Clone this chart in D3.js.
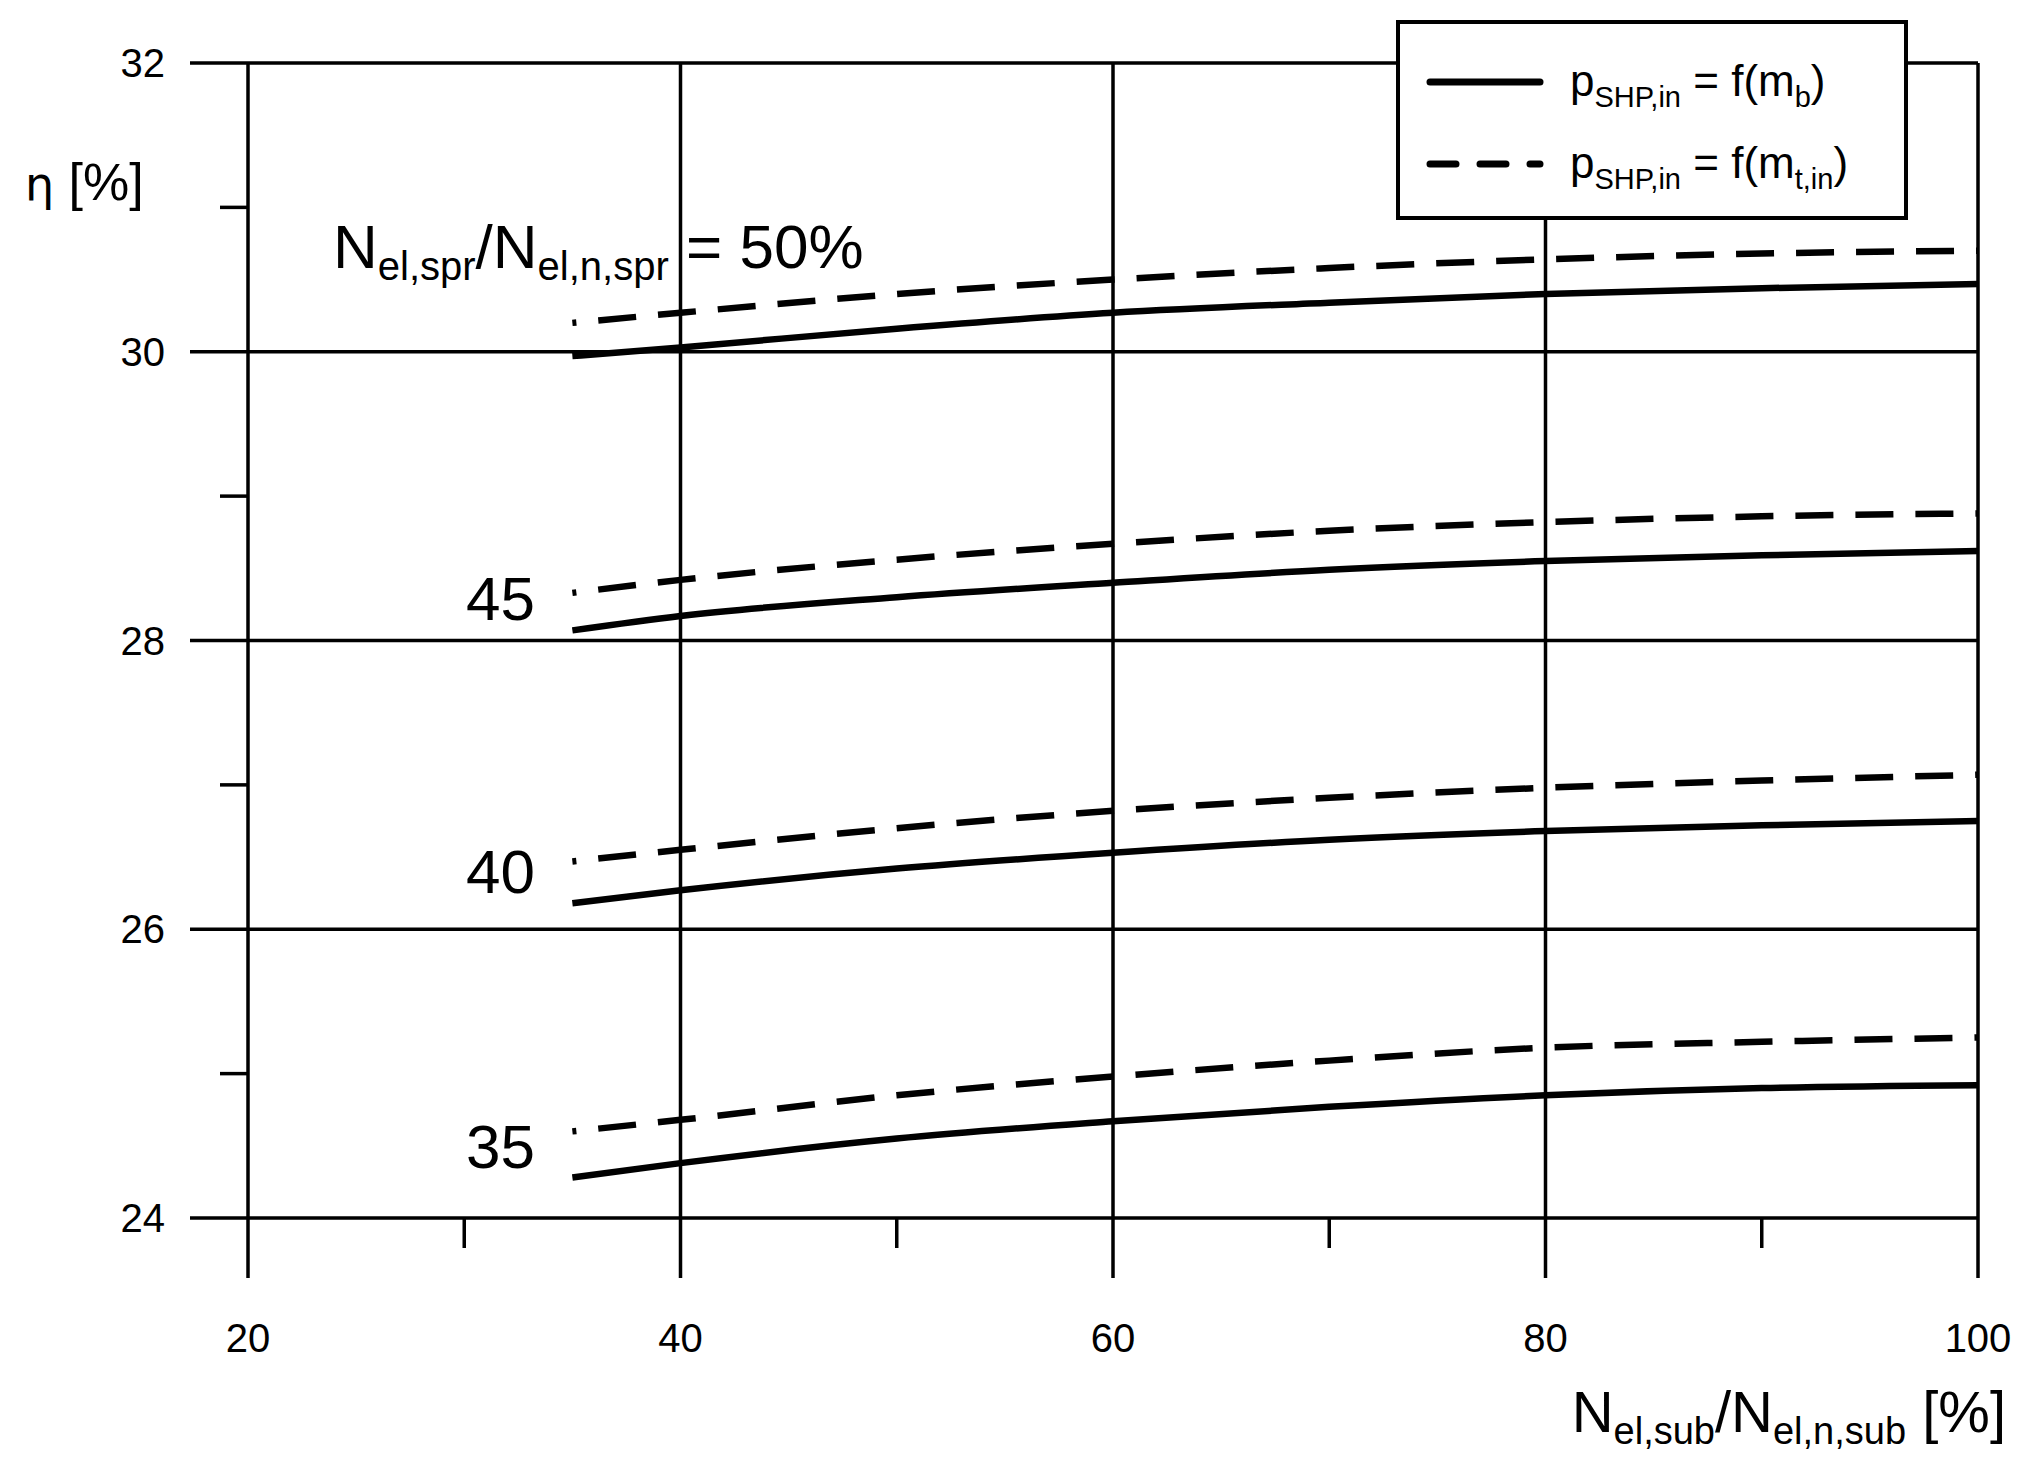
<!DOCTYPE html>
<html><head><meta charset="utf-8">
<script src="https://cdn.jsdelivr.net/npm/d3@7"></script>
<style>
body{margin:0;background:#fff}
text{font-family:"Liberation Sans Narrow","Liberation Sans",Arial,sans-serif;fill:#000}
</style></head>
<body><svg id="c" width="2039" height="1460"></svg>
<script>
// load fraction of the sub unit [%]
const xs = [35, 40, 50, 60, 70, 80, 90, 100];
// N_el,spr / N_el,n,spr levels
const levels = ["50", "45", "40", "35"];
const solid50 = [29.97, 30.03, 30.16, 30.27, 30.34, 30.40, 30.44, 30.47];
const dash50  = [30.20, 30.27, 30.40, 30.50, 30.58, 30.64, 30.68, 30.70];
const solid45 = [28.07, 28.17, 28.30, 28.40, 28.49, 28.55, 28.59, 28.62];
const dash45  = [28.33, 28.42, 28.56, 28.67, 28.76, 28.82, 28.86, 28.88];
const solid40 = [26.18, 26.27, 26.42, 26.53, 26.62, 26.68, 26.72, 26.75];
const dash40  = [26.47, 26.55, 26.70, 26.82, 26.91, 26.98, 27.03, 27.07];
const solid35 = [24.28, 24.38, 24.55, 24.67, 24.77, 24.85, 24.90, 24.92];
const dash35  = [24.60, 24.68, 24.85, 24.98, 25.09, 25.18, 25.22, 25.25];
const xTicks = [20, 40, 60, 80, 100];
const xMinor = [30, 50, 70, 90];
const yTicks = [24, 26, 28, 30, 32];
const yMinor = [25, 27, 29, 31];

const svg = d3.select("#c");
const x = d3.scaleLinear().domain([20, 100]).range([248, 1978]);
const y = d3.scaleLinear().domain([24, 32]).range([1218, 63]);
const lw = 3.5;

svg.append("g").selectAll("line").data(yTicks).join("line")
  .attr("x1", 190).attr("x2", x(100)).attr("y1", d => y(d)).attr("y2", d => y(d))
  .attr("stroke", "#000").attr("stroke-width", lw);
svg.append("g").selectAll("line").data(yMinor).join("line")
  .attr("x1", 220).attr("x2", x(20)).attr("y1", d => y(d)).attr("y2", d => y(d))
  .attr("stroke", "#000").attr("stroke-width", lw);
svg.append("g").selectAll("line").data(xTicks).join("line")
  .attr("x1", d => x(d)).attr("x2", d => x(d)).attr("y1", y(32)).attr("y2", 1278)
  .attr("stroke", "#000").attr("stroke-width", lw);
svg.append("g").selectAll("line").data(xMinor).join("line")
  .attr("x1", d => x(d)).attr("x2", d => x(d)).attr("y1", y(24)).attr("y2", 1248)
  .attr("stroke", "#000").attr("stroke-width", lw);

svg.append("g").selectAll("text").data(yTicks).join("text")
  .attr("x", 165).attr("y", d => y(d) + 14).attr("text-anchor", "end")
  .attr("font-size", 40).text(d => d);
svg.append("g").selectAll("text").data(xTicks).join("text")
  .attr("x", d => x(d)).attr("y", 1352).attr("text-anchor", "middle")
  .attr("font-size", 40).text(d => d);

const line = d3.line().x((d, i) => x(xs[i])).y(d => y(d)).curve(d3.curveMonotoneX);
const series = [[solid50, dash50], [solid45, dash45], [solid40, dash40], [solid35, dash35]];
series.forEach(([s, dsh]) => {
  svg.append("path").attr("d", line(s)).attr("fill", "none").attr("stroke", "#000").attr("stroke-width", 6.5);
  svg.append("path").attr("d", line(dsh)).attr("fill", "none").attr("stroke", "#000").attr("stroke-width", 6.5)
    .attr("stroke-dasharray", "38,22").attr("stroke-dashoffset", 34);
});

const lab = svg.append("g").attr("font-size", 62);
const t50 = lab.append("text").attr("x", 333).attr("y", 268);
t50.append("tspan").text("N");
t50.append("tspan").attr("font-size", 40).attr("dy", 12).text("el,spr");
t50.append("tspan").attr("dy", -12).text("/N");
t50.append("tspan").attr("font-size", 40).attr("dy", 12).text("el,n,spr");
t50.append("tspan").attr("dy", -12).text(" = 50%");
[["45", solid45], ["40", solid40], ["35", solid35]].forEach(([t, s]) => {
  lab.append("text").attr("x", 535).attr("y", y(s[0]) - 10).attr("text-anchor", "end").text(t);
});

const yt = svg.append("text").attr("x", 25).attr("y", 200).attr("font-size", 52);
yt.append("tspan").attr("font-family", "DejaVu Sans").attr("font-size", 46).text("η");
yt.append("tspan").text(" [%]");
const xt = svg.append("text").attr("x", 2006).attr("y", 1432).attr("font-size", 58).attr("text-anchor", "end");
xt.append("tspan").text("N");
xt.append("tspan").attr("font-size", 38).attr("dy", 12).text("el,sub");
xt.append("tspan").attr("dy", -12).text("/N");
xt.append("tspan").attr("font-size", 38).attr("dy", 12).text("el,n,sub");
xt.append("tspan").attr("dy", -12).text(" [%]");

const lg = svg.append("g");
lg.append("rect").attr("x", 1398).attr("y", 22).attr("width", 508).attr("height", 196)
  .attr("fill", "#fff").attr("stroke", "#000").attr("stroke-width", 4);
const entries = [["b", null], ["t,in", "26,24"]];
entries.forEach(([sub, dash], i) => {
  const yy = 82 + i * 82;
  lg.append("line").attr("x1", 1430).attr("x2", 1540).attr("y1", yy).attr("y2", yy)
    .attr("stroke", "#000").attr("stroke-width", 7).attr("stroke-linecap", "round")
    .attr("stroke-dasharray", dash);
  const t = lg.append("text").attr("x", 1570).attr("y", yy + 14).attr("font-size", 44);
  t.append("tspan").text("p");
  t.append("tspan").attr("font-size", 29).attr("dy", 11).text("SHP,in");
  t.append("tspan").attr("dy", -11).text(" = f(m");
  t.append("tspan").attr("font-size", 29).attr("dy", 11).text(sub);
  t.append("tspan").attr("dy", -11).text(")");
});
</script></body></html>
